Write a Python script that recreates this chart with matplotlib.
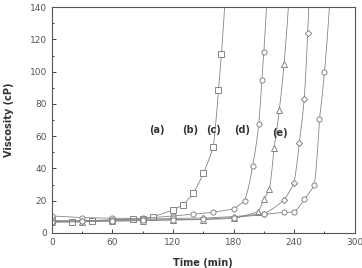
import numpy as np
import matplotlib.pyplot as plt
from matplotlib.ticker import MultipleLocator

# viscosity vs time
t_a = [0, 20, 40, 60, 80, 90, 100, 120, 130, 140, 150, 160, 165, 168]
v_a = [8.0, 6.6, 7.3, 8.0, 8.8, 8.5, 10.1, 14.3, 17.4, 24.6, 37.0, 53.5, 88.5, 110.8]

t_b = [0, 30, 60, 90, 120, 140, 160, 180, 191, 199, 205, 208, 210]
v_b = [10.5, 9.5, 9.0, 9.0, 10.5, 11.6, 12.8, 14.9, 20.0, 41.8, 67.4, 95.0, 112.5]

t_c = [0, 30, 60, 90, 120, 150, 180, 204.5, 210, 215.5, 220, 225.3, 230]
v_c = [6.5, 7.0, 7.2, 7.6, 8.0, 8.2, 9.0, 13.2, 20.9, 27.1, 52.5, 76.3, 104.8]

t_d = [0, 30, 60, 90, 120, 150, 180, 210, 230, 240, 245, 250, 253.4]
v_d = [7.5, 7.6, 8.0, 8.5, 9.0, 9.2, 10.1, 11.8, 20.5, 31.2, 56.0, 83.0, 123.9]

t_e = [0, 30, 60, 90, 120, 150, 180, 210, 230, 240, 250, 260, 265, 270]
v_e = [7.0, 7.5, 7.6, 8.0, 8.2, 8.5, 9.5, 11.5, 12.8, 12.8, 20.9, 29.6, 70.5, 99.7]

series = [('(a)', t_a, v_a, 's'), ('(b)', t_b, v_b, 'o'), ('(c)', t_c, v_c, '^'),
          ('(d)', t_d, v_d, 'D'), ('(e)', t_e, v_e, 'o')]
label_pos = {'(a)': (104, 64), '(b)': (137, 64), '(c)': (160, 64),
             '(d)': (188, 64), '(e)': (226, 62)}

GRAY = '#858585'

fig = plt.figure(figsize=(3.62, 2.68), dpi=100)
ax = fig.add_axes([0.143, 0.131, 0.837, 0.842])

for name, t, v, m in series:
    t = np.asarray(t, float)
    lv = np.log(np.asarray(v, float))
    # smooth-ish curve: log-linear interpolation, extended past the top
    slope = (lv[-1] - lv[-2]) / (t[-1] - t[-2])
    t_end = t[-1] + (np.log(160) - lv[-1]) / slope
    tt = np.linspace(t[0], t_end, 600)
    yy = np.exp(np.where(tt <= t[-1], np.interp(tt, t, lv), lv[-1] + slope*(tt - t[-1])))
    ax.plot(tt, yy, color=GRAY, lw=0.6)
    ms = 3.7 if m != 'D' else 3.2
    ax.plot(t, np.exp(lv), ls='none', marker=m, ms=ms, mfc='white', mec=GRAY, mew=0.7)
    ax.text(*label_pos[name], name, fontsize=7, fontweight='bold', ha='center',
            va='center', color='#333333')

ax.set_xlim(0, 300)
ax.set_ylim(0, 140)
ax.xaxis.set_major_locator(MultipleLocator(60))
ax.xaxis.set_minor_locator(MultipleLocator(30))
ax.yaxis.set_major_locator(MultipleLocator(20))
ax.yaxis.set_minor_locator(MultipleLocator(10))
ax.tick_params(which='both', direction='in', colors='#444444', labelsize=6.5,
               labelcolor='#555555', width=0.7)
ax.tick_params(which='major', length=3)
ax.tick_params(which='minor', length=1.5)
for s in ax.spines.values():
    s.set_color('#555555')
    s.set_linewidth(0.8)

ax.set_xlabel('Time (min)', fontsize=7, fontweight='bold', color='#333333', labelpad=8)
ax.set_ylabel('Viscosity (cP)', fontsize=7, fontweight='bold', color='#333333', labelpad=11)

fig.savefig('out.png', dpi=100)
